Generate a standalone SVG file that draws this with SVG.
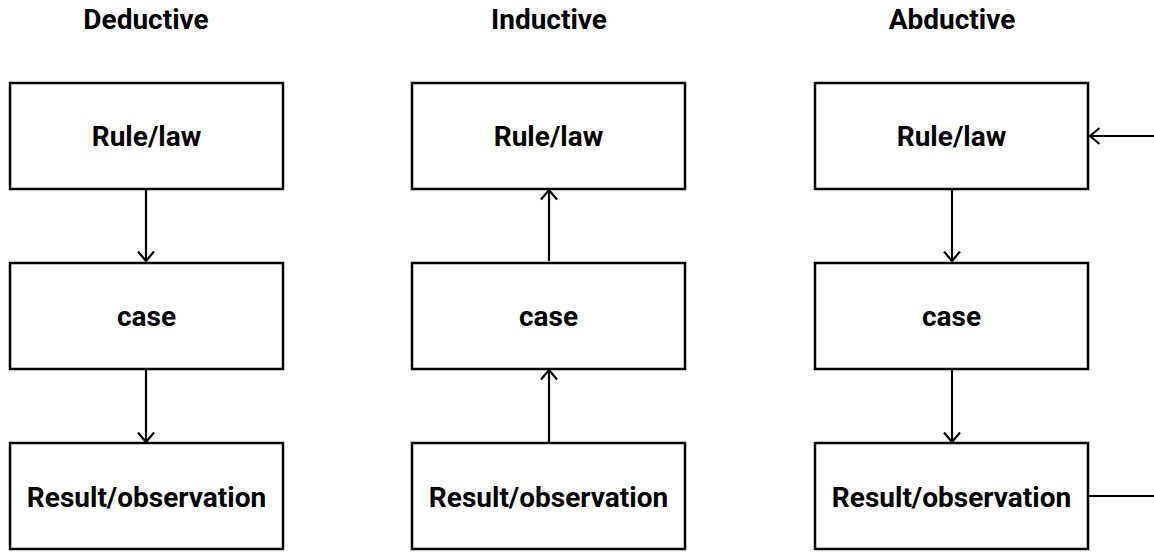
<svg xmlns="http://www.w3.org/2000/svg" width="1154" height="552" viewBox="0 0 1154 552">
  <style>
    .box { fill: #ffffff; stroke: #000000; stroke-width: 2.5; }
    .label { font-family: Roboto, "Liberation Sans", sans-serif; font-weight: 700; font-size: 28px; fill: #000000; text-anchor: middle; }
    .title { font-family: Roboto, "Liberation Sans", sans-serif; font-weight: 700; font-size: 28px; fill: #000000; text-anchor: middle; }
    .edge { fill: none; stroke: #000000; stroke-width: 2.2; marker-end: url(#arrow); }
    .plain { fill: none; stroke: #000000; stroke-width: 2.2; }
  </style>
  <defs>
    <!-- open chevron arrowhead -->
    <marker id="arrow" viewBox="0 0 12 18" refX="10.5" refY="9" markerWidth="12" markerHeight="18" markerUnits="userSpaceOnUse" orient="auto">
      <path d="M1,1 L10.5,9 L1,17" fill="none" stroke="#000000" stroke-width="2.2"/>
    </marker>
  </defs>

  <rect width="1154" height="552" fill="#ffffff"/>

  <!-- column headings -->
  <g id="titles">
    <text class="title" x="146" y="29">Deductive</text>
    <text class="title" x="549" y="29">Inductive</text>
    <text class="title" x="952" y="29">Abductive</text>
  </g>

  <!-- connectors -->
  <g id="connectors">
    <path class="edge" d="M146,190 L146,261"/>
    <path class="edge" d="M146,370 L146,442"/>
    <path class="edge" d="M549,261 L549,190"/>
    <path class="edge" d="M549,442 L549,370"/>
    <path class="edge" d="M952,190 L952,261"/>
    <path class="edge" d="M952,370 L952,442"/>
    <path class="edge" d="M1154,136 L1090,136"/>
    <path class="plain" d="M1089,496 L1154,496"/>
  </g>

  <!-- Deductive -->
  <g id="ded-rule">
    <rect class="box" x="10" y="83" width="273" height="106"/>
    <text class="label" x="146.5" y="146">Rule/law</text>
  </g>
  <g id="ded-case">
    <rect class="box" x="10" y="263" width="273" height="106"/>
    <text class="label" x="146.5" y="326">case</text>
  </g>
  <g id="ded-result">
    <rect class="box" x="10" y="443" width="273" height="106"/>
    <text class="label" x="146.5" y="507">Result/observation</text>
  </g>

  <!-- Inductive -->
  <g id="ind-rule">
    <rect class="box" x="412" y="83" width="273" height="106"/>
    <text class="label" x="548.5" y="146">Rule/law</text>
  </g>
  <g id="ind-case">
    <rect class="box" x="412" y="263" width="273" height="106"/>
    <text class="label" x="548.5" y="326">case</text>
  </g>
  <g id="ind-result">
    <rect class="box" x="412" y="443" width="273" height="106"/>
    <text class="label" x="548.5" y="507">Result/observation</text>
  </g>

  <!-- Abductive -->
  <g id="abd-rule">
    <rect class="box" x="815" y="83" width="273" height="106"/>
    <text class="label" x="951.5" y="146">Rule/law</text>
  </g>
  <g id="abd-case">
    <rect class="box" x="815" y="263" width="273" height="106"/>
    <text class="label" x="951.5" y="326">case</text>
  </g>
  <g id="abd-result">
    <rect class="box" x="815" y="443" width="273" height="106"/>
    <text class="label" x="951.5" y="507">Result/observation</text>
  </g>
</svg>
